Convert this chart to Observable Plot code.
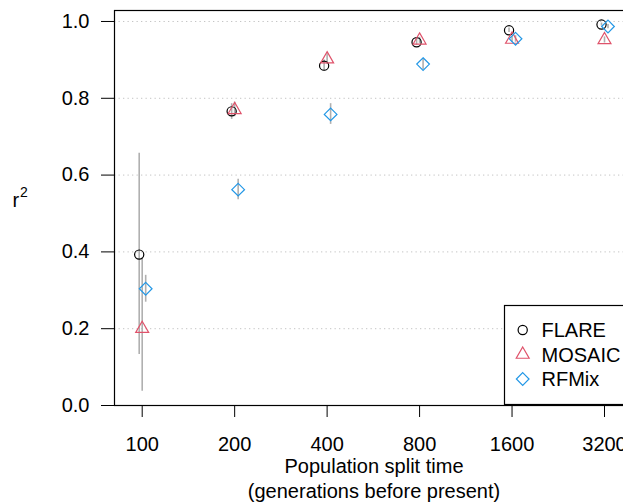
<!DOCTYPE html>
<html>
<head>
<meta charset="utf-8">
<script src="https://cdn.jsdelivr.net/npm/d3@7"></script>
<script src="https://cdn.jsdelivr.net/npm/@observablehq/plot@0.6"></script>
<style>
  html, body { margin: 0; padding: 0; background: #fff; }
  #chart { position: relative; width: 623px; height: 504px; overflow: hidden; }
</style>
</head>
<body>
<div id="chart"></div>
<script>
// ---- data ----
const splitTimes = [100, 200, 400, 800, 1600, 3200];
const yTicks = [0, 0.2, 0.4, 0.6, 0.8, 1.0];
const gridTicks = [0.2, 0.4, 0.6, 0.8, 1.0];

const flareR2 = [0.393, 0.766, 0.885, 0.946, 0.977, 0.992];
const flareLo = [0.133, 0.745, 0.870, 0.938, 0.971, 0.988];
const flareHi = [0.657, 0.786, 0.900, 0.954, 0.983, 0.996];

const mosaicR2 = [0.200, 0.770, 0.902, 0.951, 0.953, 0.952];
const mosaicLo = [0.037, 0.752, 0.888, 0.943, 0.945, 0.944];
const mosaicHi = [0.385, 0.790, 0.916, 0.959, 0.961, 0.960];

const rfmixR2 = [0.304, 0.562, 0.758, 0.889, 0.955, 0.987];
const rfmixLo = [0.269, 0.536, 0.732, 0.875, 0.946, 0.981];
const rfmixHi = [0.339, 0.589, 0.786, 0.903, 0.963, 0.992];

const methods = ["FLARE", "MOSAIC", "RFMix"];
const colors = ["black", "#DF536B", "#2297E6"];

// ---- build tables ----
function table(vals, lo, hi) {
  return splitTimes.map((t, i) => ({ t, v: vals[i], lo: lo[i], hi: hi[i] }));
}
const series = [
  { name: methods[0], color: colors[0], data: table(flareR2, flareLo, flareHi), symbol: "circle", r: 4.6, dx: -3 },
  { name: methods[1], color: colors[1], data: table(mosaicR2, mosaicLo, mosaicHi), symbol: "triangle", r: 4.8, dx: 0 },
  { name: methods[2], color: colors[2], data: table(rfmixR2, rfmixLo, rfmixHi), symbol: "diamond2", r: 5.7, dx: 3.5 }
];

const errMarks = series.map(s => Plot.ruleX(s.data, {
  x: "t", y1: "lo", y2: "hi", dx: s.dx, stroke: "#b0b0b0", strokeWidth: 1.6
}));
const dotMarks = series.map(s => Plot.dot(s.data, {
  x: "t", y: "v", dx: s.dx, symbol: s.symbol, r: s.r, stroke: s.color, fill: "none", strokeWidth: 1.2
}));

const plot = Plot.plot({
  width: 623,
  height: 504,
  marginLeft: 114,
  marginRight: -10,
  marginTop: 10,
  marginBottom: 99,
  style: { fontFamily: "'Liberation Sans', Arial, sans-serif", fontSize: "20px", background: "white", color: "black" },
  x: { type: "log", base: 2, domain: [81.25, 3977] },
  y: { domain: [0, 1.0286] },
  marks: [
    Plot.gridY(gridTicks, { stroke: "#c4c4c4", strokeOpacity: 1, strokeDasharray: "1.3,3.2", strokeWidth: 1 }),
    ...errMarks,
    ...dotMarks,
    Plot.frame({ stroke: "black", strokeWidth: 1.2 }),
    Plot.axisX(splitTimes, { tickSize: 12, tickPadding: 19, tickFormat: d => String(d), label: null, fontSize: 20 }),
    Plot.axisY(yTicks, { tickSize: 13, tickPadding: 12, tickFormat: d3.format(".1f"), label: null, fontSize: 20 }),
    Plot.text(["Population split time\n(generations before present)"], {
      frameAnchor: "bottom", dy: 50, lineAnchor: "top", lineHeight: 1.25, fontSize: 20, fill: "black"
    }),
    Plot.text(["r"], {
      frameAnchor: "left", dx: -102, dy: -7, textAnchor: "start", lineAnchor: "middle", fontSize: 20, fill: "black"
    }),
    Plot.text(["2"], {
      frameAnchor: "left", dx: -94.5, dy: -15, textAnchor: "start", lineAnchor: "middle", fontSize: 14, fill: "black"
    })
  ]
});
document.getElementById("chart").appendChild(plot);

// ---- legend (bottom-right, inside the plot box) ----
const svg = d3.select(plot);
const lg = svg.append("g").attr("class", "legend");
lg.append("rect")
  .attr("x", 504.5).attr("y", 305.5).attr("width", 160).attr("height", 99)
  .attr("fill", "white").attr("stroke", "black").attr("stroke-width", 1.2);
const symMap = { circle: d3.symbolCircle, triangle: d3.symbolTriangle, diamond2: d3.symbolDiamond2 };
series.forEach((s, i) => {
  const cy = 330 + i * 24.5;
  lg.append("path")
    .attr("transform", `translate(522.7,${cy})`)
    .attr("d", d3.symbol(symMap[s.symbol], Math.PI * s.r * s.r)())
    .attr("fill", "none").attr("stroke", s.color).attr("stroke-width", 1.2);
  lg.append("text")
    .attr("x", 541.5).attr("y", cy + 7)
    .attr("text-anchor", "start")
    .attr("font-size", 20).attr("fill", "black")
    .text(s.name);
});
</script>
</body>
</html>
